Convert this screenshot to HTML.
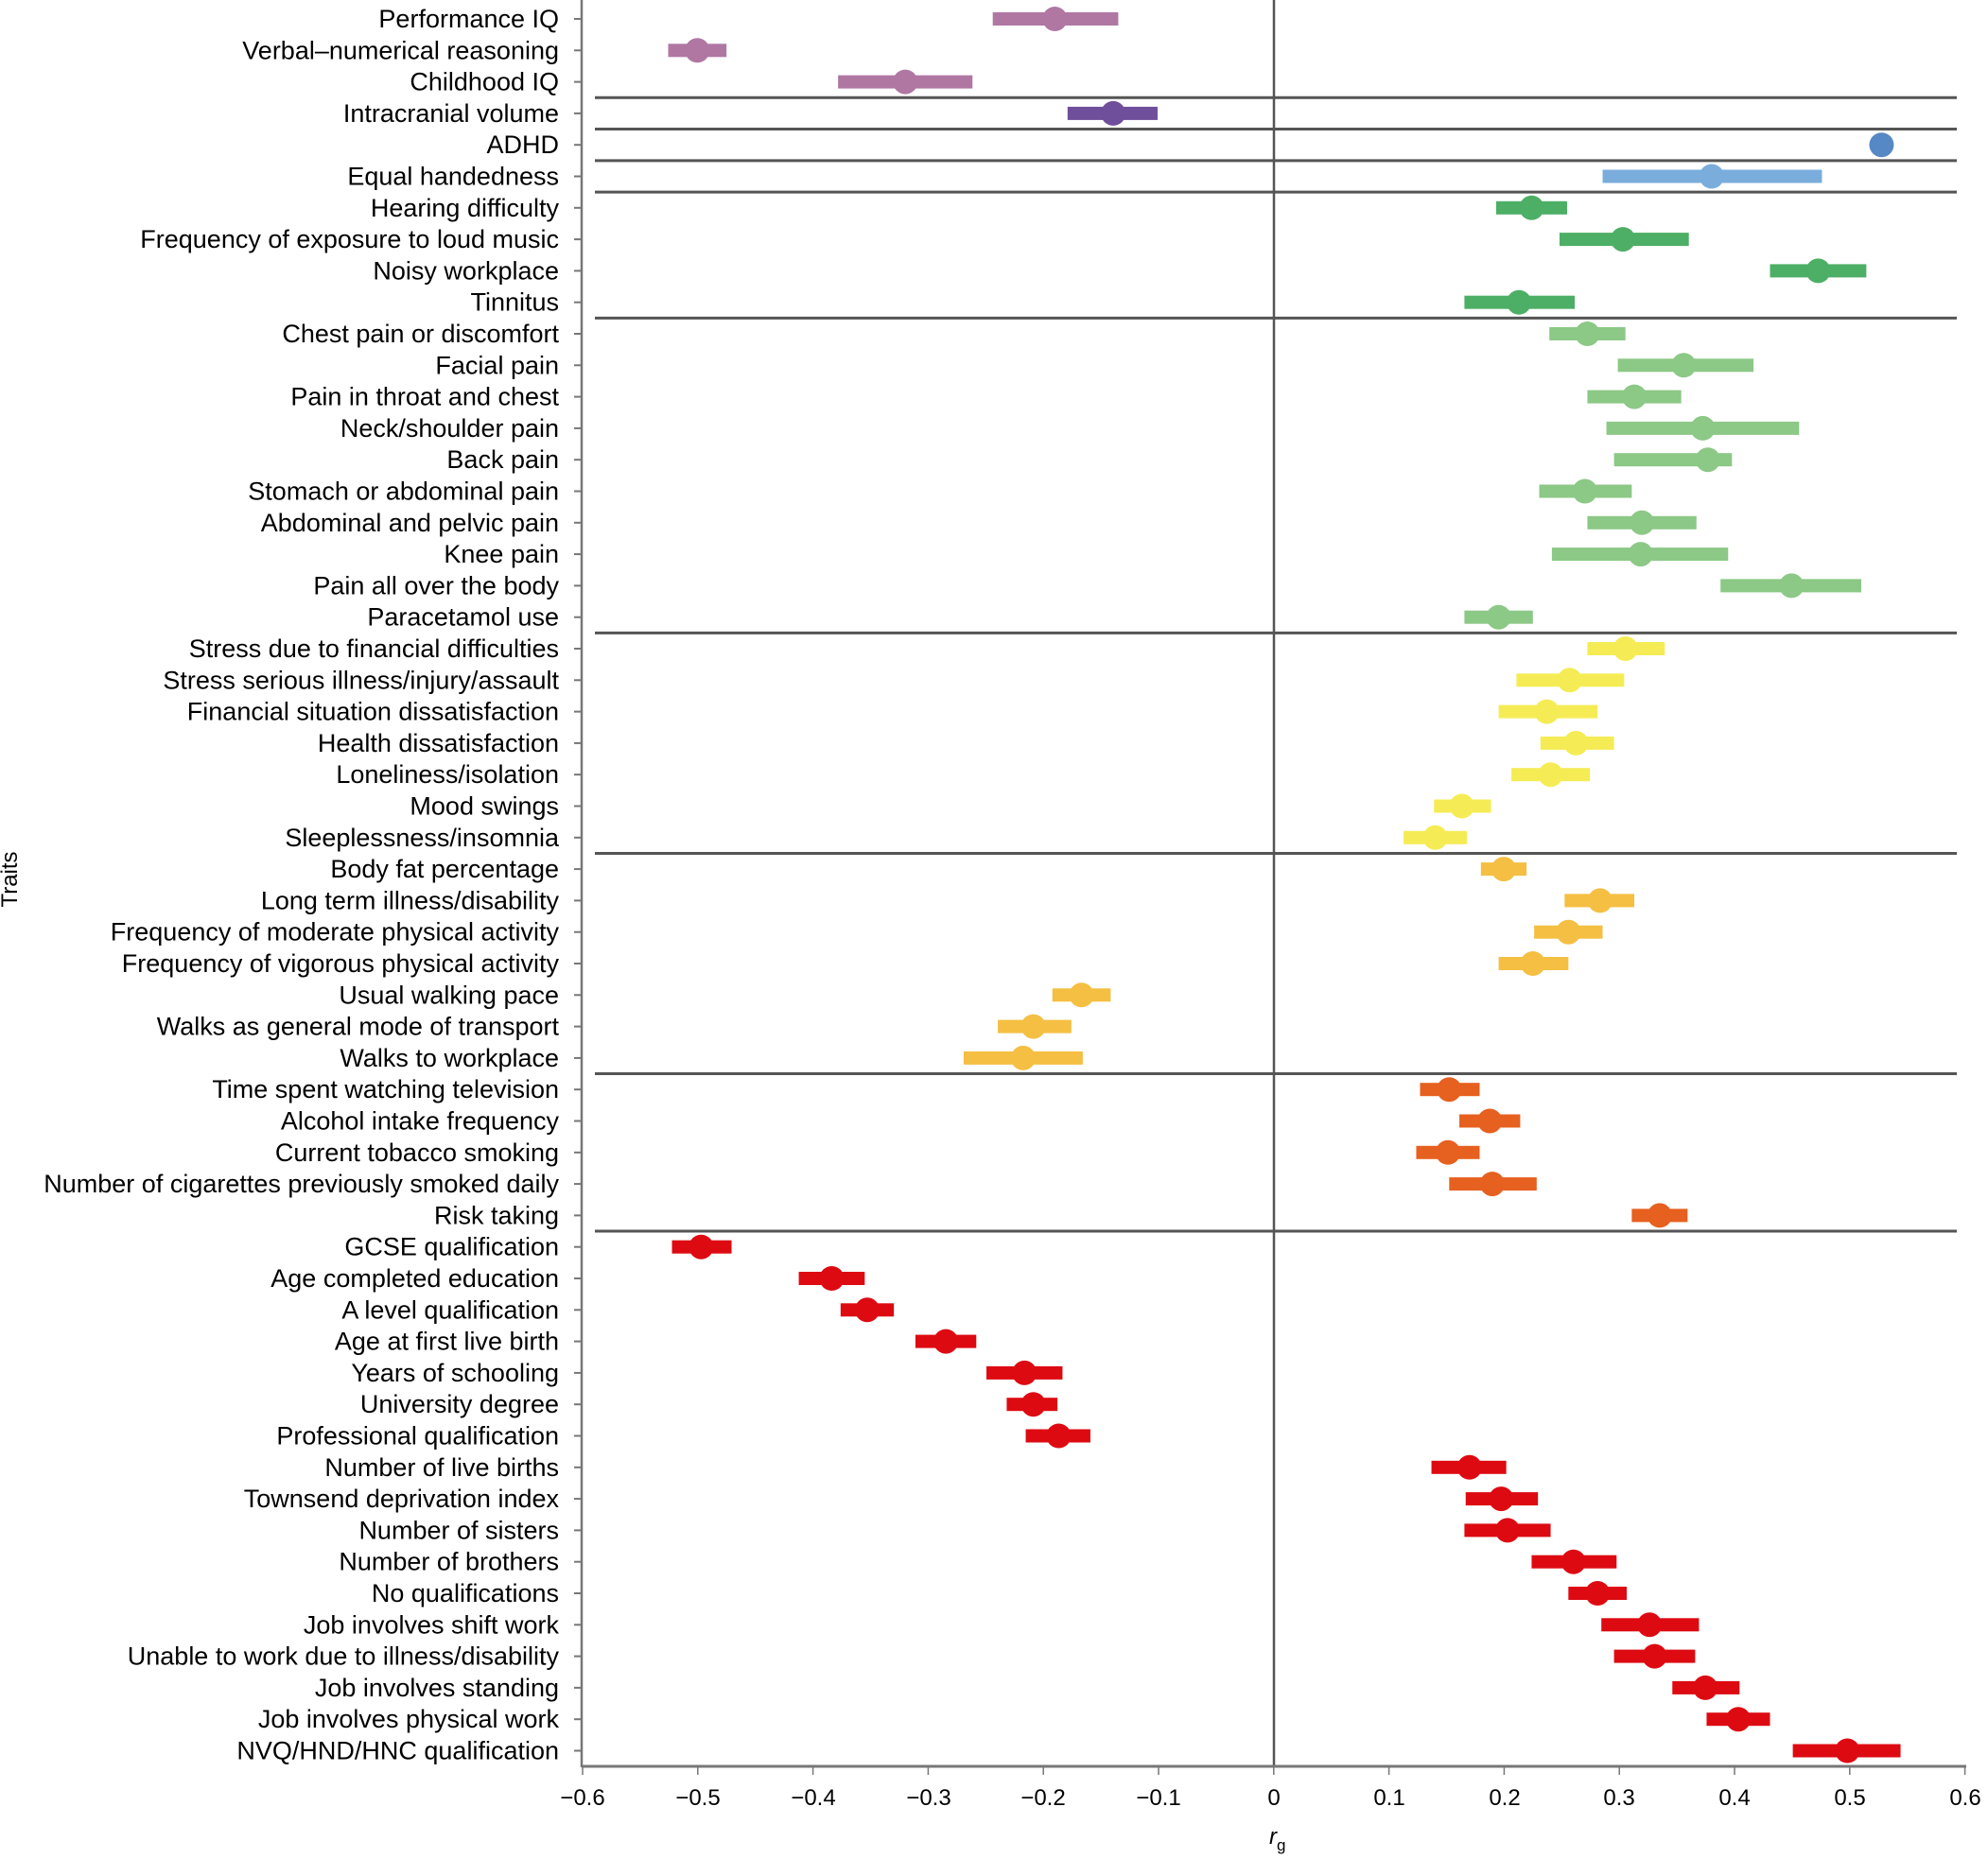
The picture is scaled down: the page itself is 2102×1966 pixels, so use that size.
<!DOCTYPE html>
<html><head><meta charset="utf-8"><style>
html,body{margin:0;padding:0;background:#fff;}
svg{display:block;}
text{font-family:"Liberation Sans",Arial,sans-serif;fill:#000;}
</style></head><body>
<svg id="s" width="2102" height="1966" viewBox="0 0 2102 1966" xmlns="http://www.w3.org/2000/svg">
<g id="shapes"></g>
<text x="591" y="29" font-size="27" text-anchor="end"><tspan x="591" dy="0">Performance IQ</tspan><tspan x="591" dy="33.3">Verbal–numerical reasoning</tspan><tspan x="591" dy="33.3">Childhood IQ</tspan><tspan x="591" dy="33.3">Intracranial volume</tspan><tspan x="591" dy="33.3">ADHD</tspan><tspan x="591" dy="33.3">Equal handedness</tspan><tspan x="591" dy="33.3">Hearing difficulty</tspan><tspan x="591" dy="33.3">Frequency of exposure to loud music</tspan><tspan x="591" dy="33.3">Noisy workplace</tspan><tspan x="591" dy="33.3">Tinnitus</tspan><tspan x="591" dy="33.3">Chest pain or discomfort</tspan><tspan x="591" dy="33.3">Facial pain</tspan><tspan x="591" dy="33.3">Pain in throat and chest</tspan><tspan x="591" dy="33.3">Neck/shoulder pain</tspan><tspan x="591" dy="33.3">Back pain</tspan><tspan x="591" dy="33.3">Stomach or abdominal pain</tspan><tspan x="591" dy="33.3">Abdominal and pelvic pain</tspan><tspan x="591" dy="33.3">Knee pain</tspan><tspan x="591" dy="33.3">Pain all over the body</tspan><tspan x="591" dy="33.3">Paracetamol use</tspan><tspan x="591" dy="33.3">Stress due to financial difficulties</tspan><tspan x="591" dy="33.3">Stress serious illness/injury/assault</tspan><tspan x="591" dy="33.3">Financial situation dissatisfaction</tspan><tspan x="591" dy="33.3">Health dissatisfaction</tspan><tspan x="591" dy="33.3">Loneliness/isolation</tspan><tspan x="591" dy="33.3">Mood swings</tspan><tspan x="591" dy="33.3">Sleeplessness/insomnia</tspan><tspan x="591" dy="33.3">Body fat percentage</tspan><tspan x="591" dy="33.3">Long term illness/disability</tspan><tspan x="591" dy="33.3">Frequency of moderate physical activity</tspan><tspan x="591" dy="33.3">Frequency of vigorous physical activity</tspan><tspan x="591" dy="33.3">Usual walking pace</tspan><tspan x="591" dy="33.3">Walks as general mode of transport</tspan><tspan x="591" dy="33.3">Walks to workplace</tspan><tspan x="591" dy="33.3">Time spent watching television</tspan><tspan x="591" dy="33.3">Alcohol intake frequency</tspan><tspan x="591" dy="33.3">Current tobacco smoking</tspan><tspan x="591" dy="33.3">Number of cigarettes previously smoked daily</tspan><tspan x="591" dy="33.3">Risk taking</tspan><tspan x="591" dy="33.3">GCSE qualification</tspan><tspan x="591" dy="33.3">Age completed education</tspan><tspan x="591" dy="33.3">A level qualification</tspan><tspan x="591" dy="33.3">Age at first live birth</tspan><tspan x="591" dy="33.3">Years of schooling</tspan><tspan x="591" dy="33.3">University degree</tspan><tspan x="591" dy="33.3">Professional qualification</tspan><tspan x="591" dy="33.3">Number of live births</tspan><tspan x="591" dy="33.3">Townsend deprivation index</tspan><tspan x="591" dy="33.3">Number of sisters</tspan><tspan x="591" dy="33.3">Number of brothers</tspan><tspan x="591" dy="33.3">No qualifications</tspan><tspan x="591" dy="33.3">Job involves shift work</tspan><tspan x="591" dy="33.3">Unable to work due to illness/disability</tspan><tspan x="591" dy="33.3">Job involves standing</tspan><tspan x="591" dy="33.3">Job involves physical work</tspan><tspan x="591" dy="33.3">NVQ/HND/HNC qualification</tspan></text>
<g font-size="24" text-anchor="middle">
<text x="616" y="1909">−0.6</text><text x="738" y="1909">−0.5</text><text x="860" y="1909">−0.4</text><text x="982" y="1909">−0.3</text><text x="1103" y="1909">−0.2</text><text x="1225" y="1909">−0.1</text><text x="1347" y="1909">0</text><text x="1469" y="1909">0.1</text><text x="1591" y="1909">0.2</text><text x="1712" y="1909">0.3</text><text x="1834" y="1909">0.4</text><text x="1956" y="1909">0.5</text><text x="2078" y="1909">0.6</text>
</g>
<text x="1342" y="1950" font-size="24" font-style="italic">r<tspan font-size="17" dy="7" font-style="normal">g</tspan></text>
<text transform="translate(18,930) rotate(-90)" font-size="24" text-anchor="middle">Traits</text>
</svg>
<script>
var d=[[832,783,882,0],[550,527,573,0],[714,661,767,0],[878,842,913,1],[1484,1484,1484,2],[1350,1264,1437,3],
[1208,1180,1236,4],[1280,1230,1332,4],[1434,1396,1472,4],[1198,1155,1242,4],
[1252,1222,1282,5],[1328,1276,1383,5],[1289,1252,1326,5],[1343,1267,1419,5],[1347,1273,1366,5],[1250,1214,1287,5],[1295,1252,1338,5],[1294,1224,1363,5],[1413,1357,1468,5],[1182,1155,1209,5],
[1282,1252,1313,6],[1238,1196,1281,6],[1220,1182,1260,6],[1243,1215,1273,6],[1223,1192,1254,6],[1153,1131,1176,6],[1132,1107,1157,6],
[1186,1168,1204,7],[1262,1234,1289,7],[1237,1210,1264,7],[1209,1182,1237,7],[853,830,876,7],[815,787,845,7],[807,760,854,7],
[1143,1120,1167,8],[1175,1151,1199,8],[1142,1117,1167,8],[1177,1143,1212,8],[1309,1287,1331,8],
[553,530,577,9],[656,630,682,9],[684,663,705,9],[746,722,770,9],[808,778,838,9],[815,794,834,9],[835,809,860,9],[1159,1129,1188,9],[1184,1156,1213,9],[1189,1155,1223,9],[1241,1208,1275,9],[1260,1237,1283,9],[1301,1263,1340,9],[1305,1273,1337,9],[1345,1319,1372,9],[1371,1346,1396,9],[1457,1414,1499,9]];
var col=["#b077a3","#6f4e9b","#5588c4","#7aaddc","#4daf65","#8cc886","#f5ec55","#f4bf42","#e6601f","#dd0a12"];
var s=1.3406,h='',Y=function(i){return 20+33.3*i;};
var seps=[2,3,4,5,9,19,26,33,38];
h+='<line x1="1347" y1="0" x2="1347" y2="1868" stroke="#555" stroke-width="2.5"/>';
seps.forEach(function(i){var y=Y(i+0.5);h+='<line x1="629" y1="'+y+'" x2="2069" y2="'+y+'" stroke="#555" stroke-width="3"/>';});
h+='<line x1="615" y1="0" x2="615" y2="1869" stroke="#777" stroke-width="2.5"/>';
h+='<line x1="615" y1="1868" x2="2079" y2="1868" stroke="#777" stroke-width="3"/>';
for(var i=0;i<56;i++){var y=Y(i);h+='<line x1="607" y1="'+y+'" x2="615" y2="'+y+'" stroke="#777" stroke-width="2"/>';}
for(var k=0;k<=12;k++){var x=616+k*121.8;h+='<line x1="'+x+'" y1="1868" x2="'+x+'" y2="1877" stroke="#777" stroke-width="1.5"/>';}
d.forEach(function(r,i){var y=Y(i),c=col[r[3]];
 if(r[2]>r[1])h+='<rect x="'+r[1]*s+'" y="'+(y-7)+'" width="'+(r[2]-r[1])*s+'" height="14" fill="'+c+'"/>';
 h+='<circle cx="'+r[0]*s+'" cy="'+y+'" r="13" fill="'+c+'"/>';});
document.getElementById('shapes').innerHTML=h;
</script>
</body></html>
